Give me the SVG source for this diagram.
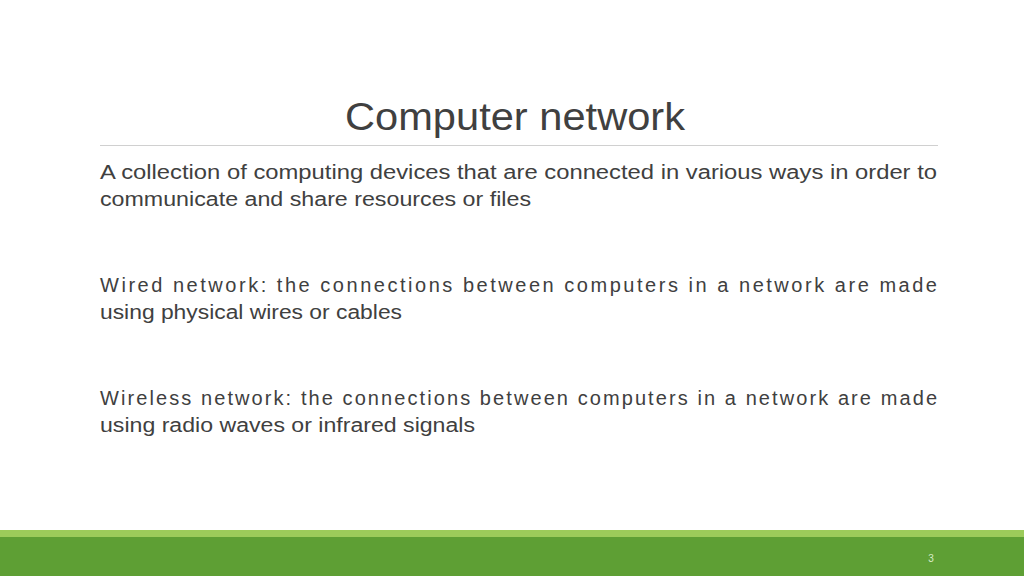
<svg xmlns="http://www.w3.org/2000/svg" width="1024" height="576" viewBox="0 0 1024 576">
<style>
.t{font-family:"Liberation Sans",Arial,sans-serif;fill:#404040}
.b{font-size:20px}
</style>
<rect width="1024" height="576" fill="#fff"/>
<text class="t" x="515" y="130" font-size="38" text-anchor="middle" textLength="340" lengthAdjust="spacingAndGlyphs">Computer network</text>
<line x1="100" y1="145.5" x2="938" y2="145.5" stroke="#d0d0d0" stroke-width="1"/>
<text class="t b" x="100" y="179" textLength="837" lengthAdjust="spacingAndGlyphs">A collection of computing devices that are connected in various ways in order to</text>
<text class="t b" x="100" y="206" textLength="431" lengthAdjust="spacingAndGlyphs">communicate and share resources or files</text>
<text class="t b" x="100" y="292" textLength="837" lengthAdjust="spacing">Wired network: the connections between computers in a network are made</text>
<text class="t b" x="100" y="319" textLength="302" lengthAdjust="spacingAndGlyphs">using physical wires or cables</text>
<text class="t b" x="100" y="405" textLength="837" lengthAdjust="spacing">Wireless network: the connections between computers in a network are made</text>
<text class="t b" x="100" y="432" textLength="375" lengthAdjust="spacingAndGlyphs">using radio waves or infrared signals</text>
<rect x="0" y="530" width="1024" height="7" fill="#9ccb5a"/>
<rect x="0" y="537" width="1024" height="39" fill="#5e9f34"/>
<text x="931" y="562" font-family="Liberation Sans,sans-serif" font-size="10" fill="#d8ecc8" text-anchor="middle">3</text>
</svg>
